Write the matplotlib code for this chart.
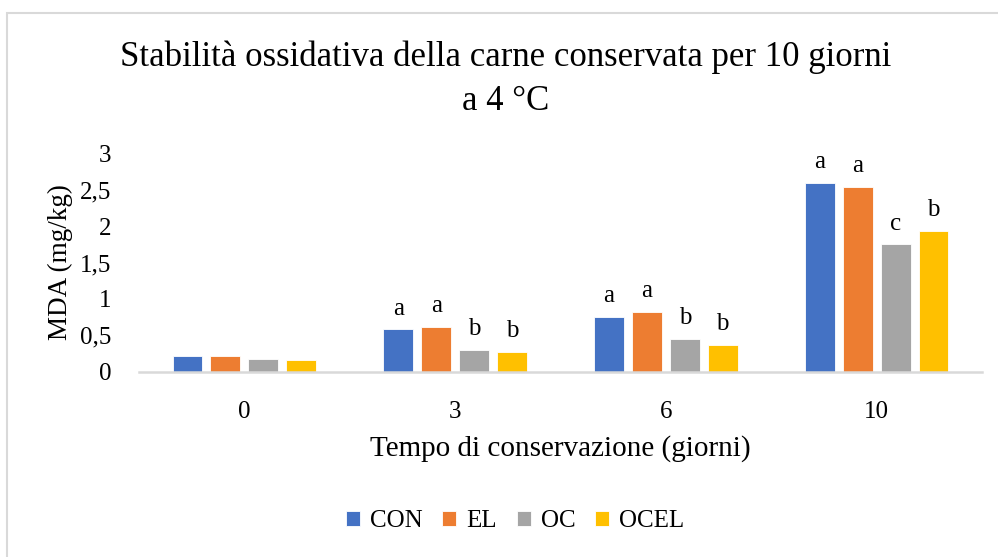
import numpy as np
import matplotlib
matplotlib.use("Agg")
import matplotlib.pyplot as plt
from matplotlib.patches import Rectangle

plt.rcParams['font.family'] = ['Liberation Serif', 'DejaVu Serif']

# data
giorni = ["0", "3", "6", "10"]
serie = ["CON", "EL", "OC", "OCEL"]
con = [0.22, 0.58, 0.75, 2.59]
el = [0.21, 0.62, 0.82, 2.54]
oc = [0.18, 0.30, 0.45, 1.75]
ocel = [0.16, 0.27, 0.37, 1.93]
lettere_con = ["", "a", "a", "a"]
lettere_el = ["", "a", "a", "a"]
lettere_oc = ["", "b", "b", "c"]
lettere_ocel = ["", "b", "b", "b"]

colors = ['#4472C4', '#ED7D31', '#A5A5A5', '#FFC000']

fig = plt.figure(figsize=(9.98, 5.57), dpi=100)
ax = fig.add_axes([139 / 998, 1 - 371.7 / 557, (982 - 139) / 998, (371.7 - 153.3) / 557])

x = np.arange(len(giorni))
step = 0.18
width = 0.142
valori = [con, el, oc, ocel]
lettere = [lettere_con, lettere_el, lettere_oc, lettere_ocel]
for i, (nome, vals) in enumerate(zip(serie, valori)):
    pos = x + (i - 1.5) * step
    ax.bar(pos, vals, width, color=colors[i], label=nome, edgecolor='white', linewidth=0.6, zorder=2)
    for xp, v, l in zip(pos, vals, lettere[i]):
        if l:
            ax.annotate(l, (xp, v), xytext=(0, 7), textcoords='offset points',
                        ha='center', va='bottom', fontsize=18)

ax.set_xlim(-0.5, len(giorni) - 0.5)
ax.set_ylim(0, 3)
ax.set_yticks([0, 0.5, 1, 1.5, 2, 2.5, 3])
ax.set_yticklabels(["0", "0,5", "1", "1,5", "2", "2,5", "3"])
ax.set_xticks(x)
ax.set_xticklabels(giorni)
ax.tick_params(axis='both', length=0, labelsize=18)
ax.tick_params(axis='x', pad=21)
ax.tick_params(axis='y', pad=20)

for s in ['top', 'right', 'left']:
    ax.spines[s].set_visible(False)
ax.spines['bottom'].set_color('#D9D9D9')
ax.spines['bottom'].set_linewidth(1.8)

ax.set_ylabel("MDA (mg/kg)", fontsize=19.5, labelpad=5)
ax.set_xlabel("Tempo di conservazione (giorni)", fontsize=21, labelpad=9)

fig.text(0.507, 1 - 57 / 557, "Stabilità ossidativa della carne conservata per 10 giorni",
         ha='center', va='center', fontsize=25)
fig.text(0.507, 1 - 101 / 557, "a 4 °C", ha='center', va='center', fontsize=25)

ax.legend(loc='center', bbox_to_anchor=(0.516, 1 - 521 / 557), bbox_transform=fig.transFigure,
          ncol=4, frameon=False, fontsize=18, handlelength=0.56, handleheight=0.56,
          handletextpad=0.4, columnspacing=0.8)

# chart border
fig.patches.append(Rectangle((7 / 998, -0.05), 1.1, 1 - 13 / 557 + 0.05, transform=fig.transFigure,
                             fill=False, edgecolor='#D9D9D9', linewidth=1.5))

fig.savefig("out.png", dpi=100)
